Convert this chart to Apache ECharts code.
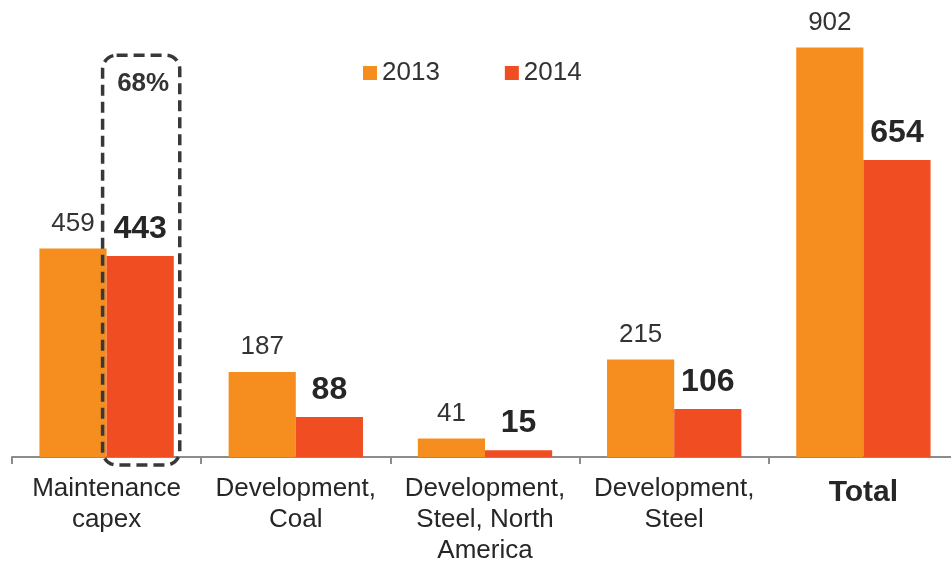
<!DOCTYPE html>
<html>
<head>
<meta charset="utf-8">
<script src="https://cdn.jsdelivr.net/npm/echarts@6/dist/echarts.min.js"></script>
<style>
  html, body { margin: 0; padding: 0; background: #fff; }
  #chart { width: 951px; height: 562px; }
</style>
</head>
<body>
<div id="chart"></div>
<script>
// Capex by category, 2013 vs 2014
const categories = ['Maintenance\ncapex', 'Development,\nCoal', 'Development,\nSteel, North\nAmerica', 'Development,\nSteel', 'Total'];
const years = ['2013', '2014'];
const values2013 = [459, 187, 41, 215, 902];
const values2014 = [443, 88, 15, 106, 654];
const highlightText = '68%';

const FONT = '"Liberation Sans", Arial, sans-serif';
const ORANGE = '#F68D1F';
const RED = '#F04D23';

const chart = echarts.init(document.getElementById('chart'));

const option = {
  animation: false,
  textStyle: { fontFamily: FONT },
  grid: { left: 12, width: 946, top: 3, height: 454, containLabel: false, outerBoundsMode: 'none' },
  legend: {
    data: years,
    left: 363,
    top: 60,
    padding: 0,
    icon: 'rect',
    itemWidth: 14,
    itemHeight: 14,
    itemGap: 65,
    textStyle: { fontSize: 26, color: '#333', fontFamily: FONT }
  },
  xAxis: {
    type: 'category',
    data: categories,
    axisLine: { lineStyle: { color: '#8c8c8c', width: 2 } },
    axisTick: { show: true, length: 7, lineStyle: { color: '#8c8c8c', width: 2 } },
    axisLabel: {
      interval: 0,
      margin: 16,
      fontSize: 26,
      lineHeight: 31,
      color: '#262626',
      fontFamily: FONT,
      formatter: v => v === 'Total' ? '{b|' + v + '}' : v,
      rich: { b: { fontSize: 30, fontWeight: 'bold', color: '#262626', fontFamily: FONT, lineHeight: 39 } }
    }
  },
  yAxis: {
    type: 'value',
    min: 0,
    max: 1000,
    show: false,
    splitLine: { show: false }
  },
  series: [
    {
      name: years[0],
      type: 'bar',
      data: values2013,
      barGap: '0%',
      barCategoryGap: '29%',
      itemStyle: { color: ORANGE },
      label: {
        show: true, position: 'top', distance: 12,
        fontSize: 26, color: '#333', fontFamily: FONT
      }
    },
    {
      name: years[1],
      type: 'bar',
      data: values2014,
      barGap: '0%',
      barCategoryGap: '29%',
      itemStyle: { color: RED },
      label: {
        show: true, position: 'top', distance: 11,
        fontSize: 32, fontWeight: 'bold', color: '#262626', fontFamily: FONT
      }
    }
  ]
};

chart.setOption(option);

// Dashed highlight frame around the 2014 maintenance bar, placed from the axis scales
function drawHighlight() {
  const c0 = chart.convertToPixel({ xAxisIndex: 0 }, 0);
  const c1 = chart.convertToPixel({ xAxisIndex: 0 }, 1);
  const band = c1 - c0;
  const barW = band * (1 - 0.29) / 2;
  const barLeft = c0;
  const barRight = c0 + barW;
  const yBase = chart.convertToPixel({ yAxisIndex: 0 }, 0);
  const yTop = chart.convertToPixel({ yAxisIndex: 0 }, 885);
  const x = barLeft - 4;
  const w = barRight + 6 - x;
  const y = yTop;
  const h = yBase + 8 - y;
  chart.setOption({
    graphic: [
      {
        type: 'rect',
        shape: { x: x, y: y, width: w, height: h, r: 14 },
        style: { fill: 'none', stroke: '#383838', lineWidth: 3.5, lineDash: [11, 6] },
        z: 10
      },
      {
        type: 'text',
        x: x + w / 2 + 2,
        y: y + 29,
        style: {
          text: highlightText,
          fill: '#333',
          font: 'bold 26px ' + FONT,
          align: 'center',
          verticalAlign: 'middle'
        },
        z: 10
      }
    ]
  });
}
drawHighlight();
</script>
</body>
</html>
